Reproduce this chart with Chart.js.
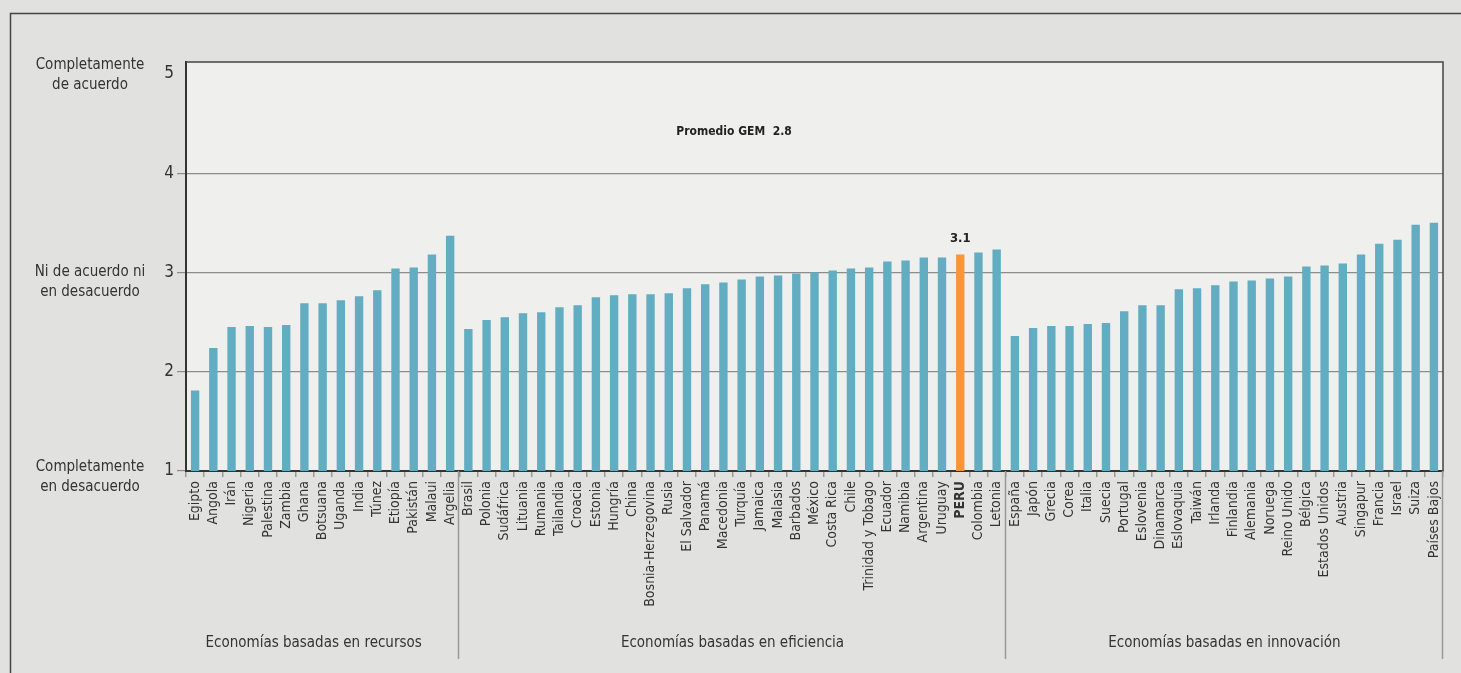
<!DOCTYPE html>
<html><head><meta charset="utf-8">
<script src="https://cdn.jsdelivr.net/npm/chart.js@4/dist/chart.umd.min.js"></script>
<style>
html,body{margin:0;padding:0;background:#e1e1e0;}
#wrap{position:relative;width:1461px;height:673px;}
</style></head>
<body><div id="wrap"><canvas id="c" width="1461" height="673"></canvas></div>
<script>
const recursos = ["Egipto","Angola","Irán","Nigeria","Palestina","Zambia","Ghana","Botsuana","Uganda","India","Túnez","Etiopía","Pakistán","Malaui","Argelia"];
const recursosVals = [1.81,2.24,2.45,2.46,2.45,2.47,2.69,2.69,2.72,2.76,2.82,3.04,3.05,3.18,3.37];
const eficiencia = ["Brasil","Polonia","Sudáfrica","Lituania","Rumania","Tailandia","Croacia","Estonia","Hungría","China","Bosnia-Herzegovina","Rusia","El Salvador","Panamá","Macedonia","Turquía","Jamaica","Malasia","Barbados","México","Costa Rica","Chile","Trinidad y Tobago","Ecuador","Namibia","Argentina","Uruguay","PERU","Colombia","Letonia"];
const eficienciaVals = [2.43,2.52,2.55,2.59,2.60,2.65,2.67,2.75,2.77,2.78,2.78,2.79,2.84,2.88,2.90,2.93,2.96,2.97,2.99,3.00,3.02,3.04,3.05,3.11,3.12,3.15,3.15,3.18,3.20,3.23];
const innovacion = ["España","Japón","Grecia","Corea","Italia","Suecia","Portugal","Eslovenia","Dinamarca","Eslovaquia","Taiwán","Irlanda","Finlandia","Alemania","Noruega","Reino Unido","Bélgica","Estados Unidos","Austria","Singapur","Francia","Israel","Suiza","Países Bajos"];
const innovacionVals = [2.36,2.44,2.46,2.46,2.48,2.49,2.61,2.67,2.67,2.83,2.84,2.87,2.91,2.92,2.94,2.96,3.06,3.07,3.09,3.18,3.29,3.33,3.48,3.50];
const groupNames = ["Economías basadas en recursos","Economías basadas en eficiencia","Economías basadas en innovación"];
const yTicks = [1,2,3,4,5];
const yTextLabels = [
  {value:5, lines:["Completamente","de acuerdo"]},
  {value:3, lines:["Ni de acuerdo ni","en desacuerdo"]},
  {value:1, lines:["Completamente","en desacuerdo"]}
];
const highlight = "PERU";
const highlightLabel = "3.1";
const averageTitle = "Promedio GEM  2.8";

const labels = [...recursos, ...eficiencia, ...innovacion];
const values = [...recursosVals, ...eficienciaVals, ...innovacionVals];
const groupSizes = [recursos.length, eficiencia.length, innovacion.length];

const FONT = "'Liberation Sans Narrow','DejaVu Sans Condensed','Liberation Sans',sans-serif";
const BLUE = "#62adc2", ORANGE = "#f7953b";

const deco = {
  id: 'deco',
  beforeDraw(chart){
    const {ctx, chartArea:a} = chart;
    ctx.save();
    ctx.fillStyle = '#efefed';
    ctx.fillRect(a.left, a.top, a.right-a.left, a.bottom-a.top);
    ctx.strokeStyle = '#444'; ctx.lineWidth = 1.5;
    ctx.beginPath(); ctx.moveTo(10.5, 673); ctx.lineTo(10.5, 13.5); ctx.lineTo(1461, 13.5); ctx.stroke();
    ctx.restore();
  },
  afterDraw(chart){
    const {ctx, chartArea:a, scales:{x,y}} = chart;
    ctx.save();
    ctx.strokeStyle = '#444'; ctx.lineWidth = 1.5;
    ctx.beginPath(); ctx.moveTo(a.left, a.top); ctx.lineTo(a.right, a.top); ctx.lineTo(a.right, a.bottom); ctx.stroke();
    const step = x.getPixelForValue(1) - x.getPixelForValue(0);
    let start = 0;
    ctx.fillStyle = '#333'; ctx.font = "15px " + FONT; ctx.textAlign = 'center'; ctx.textBaseline = 'middle';
    const labelShift = [-9, 0, 0];
    groupSizes.forEach((n, gi) => {
      const left = x.getPixelForValue(start) - step/2;
      const right = x.getPixelForValue(start+n-1) + step/2;
      ctx.fillText(groupNames[gi], (left+right)/2 + labelShift[gi], 643);
      ctx.strokeStyle = '#999'; ctx.lineWidth = 1.5;
      ctx.beginPath(); ctx.moveTo(Math.round(right)-0.5, a.bottom); ctx.lineTo(Math.round(right)-0.5, 659); ctx.stroke();
      start += n;
    });
    ctx.font = "15px " + FONT; ctx.fillStyle = '#333';
    yTextLabels.forEach(t => {
      const py = y.getPixelForValue(t.value);
      const off = t.value === 5 ? -9 : (t.value === 1 ? -4 : 0);
      ctx.fillText(t.lines[0], 90, py + off);
      ctx.fillText(t.lines[1], 90, py + off + 20);
    });
    ctx.font = "bold 12px " + FONT; ctx.fillStyle = '#222';
    ctx.fillText(averageTitle, a.left + (a.right - a.left) * 0.436, 132);
    ctx.font = "bold 13px " + FONT;
    const hi = labels.indexOf(highlight);
    const hx = x.getPixelForValue(hi), hy = y.getPixelForValue(values[hi]);
    ctx.fillText(highlightLabel, hx, hy - 16);
    ctx.restore();
  }
};

new Chart(document.getElementById('c'), {
  type: 'bar',
  data: {
    labels,
    datasets: [{
      data: values,
      backgroundColor: labels.map(l => l === highlight ? ORANGE : BLUE),
      barPercentage: 0.46,
      categoryPercentage: 1.0,
      borderWidth: 0
    }]
  },
  options: {
    responsive: false,
    animation: false,
    events: [],
    layout: {padding: {left: 0, right: 18, top: 62, bottom: 0}},
    plugins: {legend: {display: false}, tooltip: {enabled: false}},
    scales: {
      x: {
        afterFit: s => { s.height = 202; },
        grid: {offset: true, drawOnChartArea: false, drawTicks: true, tickLength: 6, color: '#999', lineWidth: 1.5},
        border: {display: true, color: '#333', width: 2},
        ticks: {
          autoSkip: false, maxRotation: 90, minRotation: 90, padding: 4,
          color: '#333',
          font: ctx => ({family: FONT, size: 14, weight: (ctx.tick && ctx.tick.label === highlight) ? 'bold' : 'normal'})
        }
      },
      y: {
        min: 1, max: 5.12,
        afterFit: s => { s.width = 186; },
        afterBuildTicks: s => { s.ticks = yTicks.map(v => ({value: v})); },
        grid: {
          color: ctx => (ctx.tick && ctx.tick.value === 5) ? 'rgba(0,0,0,0)' : '#8c8c8c',
          lineWidth: 1.2, tickLength: 9, drawTicks: true
        },
        border: {display: true, color: '#333', width: 2},
        ticks: {color: '#333', padding: 3, font: {family: FONT, size: 17}, callback: v => String(v)}
      }
    }
  },
  plugins: [deco]
});
</script></body></html>
